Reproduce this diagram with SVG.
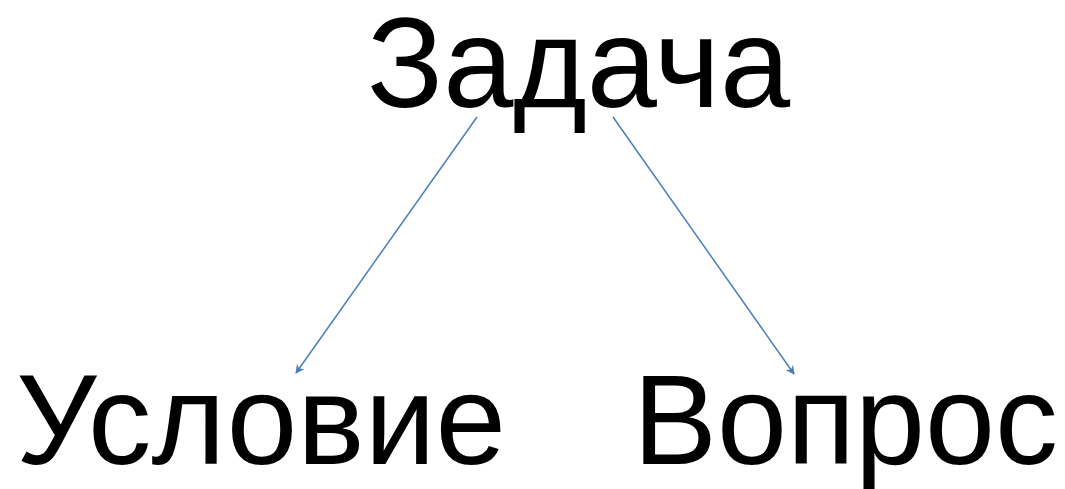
<svg xmlns="http://www.w3.org/2000/svg" width="1065" height="489" viewBox="0 0 1065 489">
<style>
.t{font-family:"Liberation Sans",Arial,sans-serif;font-size:128px;fill:#000}
.c{stroke:#4a7ebb;stroke-width:1.5;fill:none}
</style>
<defs>
<marker id="ah" viewBox="0 0 10 10" refX="9" refY="5" markerWidth="9" markerHeight="9" orient="auto" markerUnits="userSpaceOnUse">
<path d="M0,0 L10,5 L0,10 L3,5 Z" fill="#4a7ebb"/>
</marker>
</defs>
<rect width="1065" height="489" fill="#fff"/>
<g id="connectors">
<line class="c" x1="477" y1="117" x2="296" y2="373" marker-end="url(#ah)"/>
<line class="c" x1="613" y1="117" x2="794" y2="374" marker-end="url(#ah)"/>
</g>
<g id="zadacha"><text class="t" x="367" y="107" textLength="423" lengthAdjust="spacingAndGlyphs">Задача</text></g>
<g id="uslovie"><text class="t" x="16" y="464" textLength="490" lengthAdjust="spacingAndGlyphs">Условие</text></g>
<g id="vopros"><text class="t" x="633" y="464" textLength="425" lengthAdjust="spacingAndGlyphs">Вопрос</text></g>
</svg>
